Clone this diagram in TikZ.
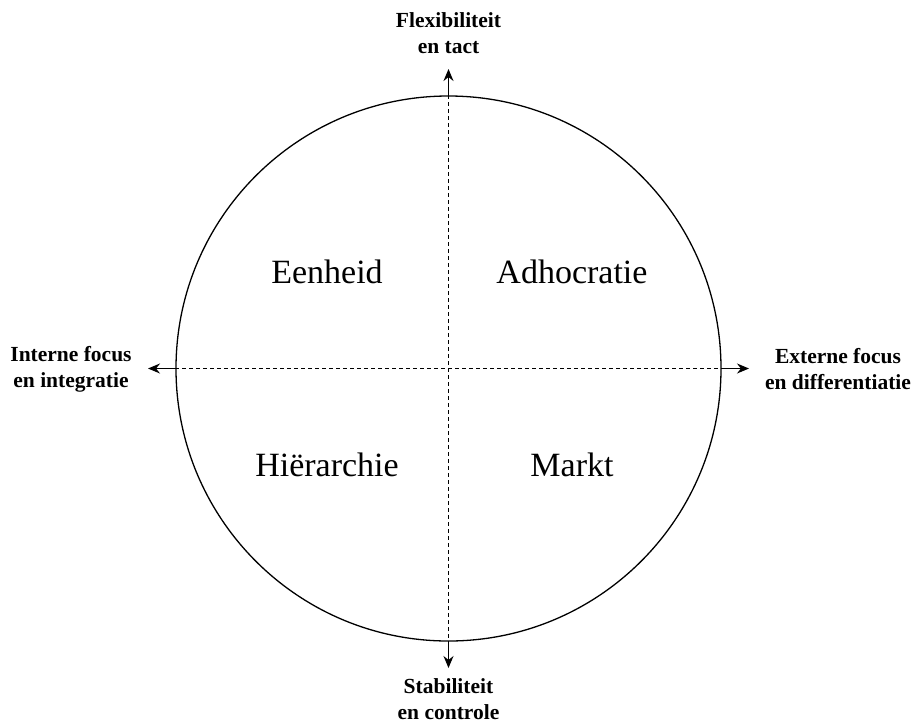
\documentclass[tikz,border=0pt]{standalone}
\usepackage{fontspec}
\setmainfont{Liberation Serif}
\usetikzlibrary{arrows.meta}

\begin{document}
\begin{tikzpicture}[x=1pt,y=-1pt,
	axislabel/.style={font=\fontsize{21.5}{26}\selectfont\bfseries,align=center},
	quadrant/.style={font=\fontsize{34}{40}\selectfont},
	axisarrow/.style={-{Stealth[length=12pt,width=10pt]},line width=1.2pt}]
		\useasboundingbox (0,0) rectangle (913,724);
		\node[circle,draw,line width=1.3pt,minimum size=545pt,inner sep=0pt] (c) at (448.5,368.5) {};
		\draw[line width=0.9pt,dash pattern=on 3.5pt off 3.5pt] (c.north) -- (c.south);
		\draw[line width=0.9pt,dash pattern=on 3.5pt off 3.5pt] (c.west) -- (c.east);
		\coordinate (top) at (448.5,69);
		\coordinate (bottom) at (448.5,668);
		\coordinate (left) at (148,368.5);
		\coordinate (right) at (749,368.5);
		\draw[axisarrow] (c.north) -- (top);
		\draw[axisarrow] (c.south) -- (bottom);
		\draw[axisarrow] (c.west) -- (left);
		\draw[axisarrow] (c.east) -- (right);
		\node[axislabel] (flex) at (448.5,33) {Flexibiliteit\\en tact};
		\node[axislabel] (stab) at (448.5,699.5) {Stabiliteit\\en controle};
		\node[axislabel] (intern) at (71,369) {Interne focus\\en integratie};
		\node[axislabel] (extern) at (838,369) {Externe focus\\en differentiatie};
		\node[quadrant] (eenheid) at (327,272) {Eenheid};
		\node[quadrant] (adhocratie) at (572,272) {Adhocratie};
		\node[quadrant] (hierarchie) at (327,465) {Hiërarchie};
		\node[quadrant] (markt) at (572,465) {Markt};
\end{tikzpicture}
\end{document}
